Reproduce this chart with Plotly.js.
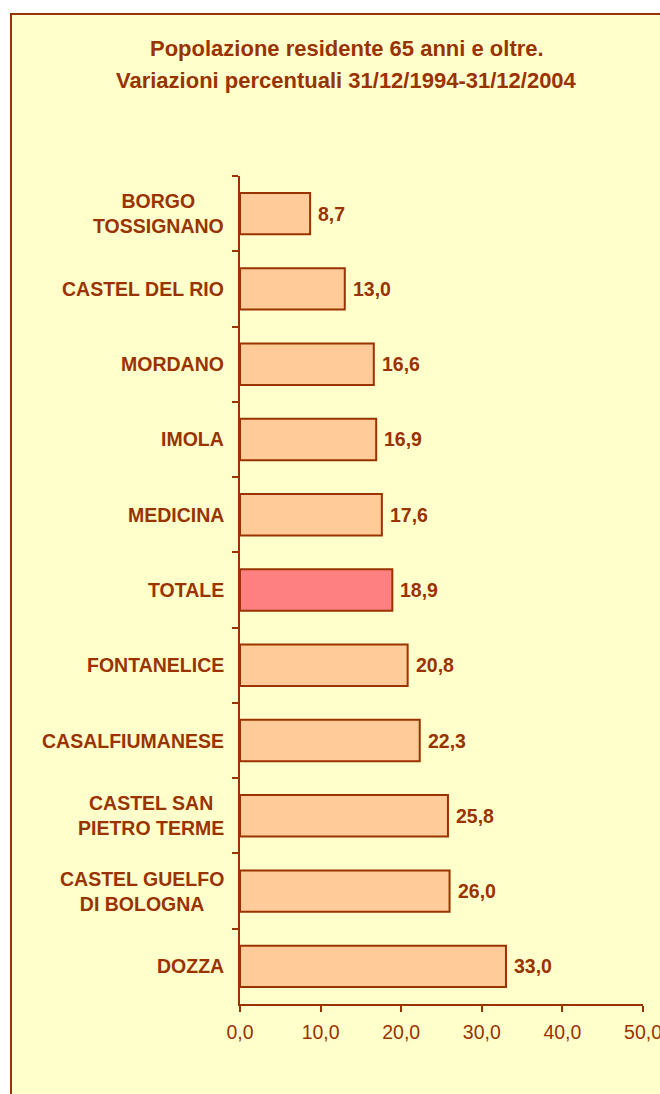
<!DOCTYPE html>
<html>
<head>
<meta charset="utf-8">
<script src="https://cdn.plot.ly/plotly-3.0.1.min.js"></script>
<style>html,body{margin:0;padding:0;background:#fff;}#chart{width:660px;height:1094px;}</style>
</head>
<body>
<div id="chart"></div>
<script>
// Data
var categories = ["BORGO TOSSIGNANO","CASTEL DEL RIO","MORDANO","IMOLA","MEDICINA","TOTALE","FONTANELICE","CASALFIUMANESE","CASTEL SAN PIETRO TERME","CASTEL GUELFO DI BOLOGNA","DOZZA"];
var labelTexts = ["BORGO<br>TOSSIGNANO","CASTEL DEL RIO","MORDANO","IMOLA","MEDICINA","TOTALE","FONTANELICE","CASALFIUMANESE","CASTEL SAN<br>PIETRO TERME","CASTEL GUELFO<br>DI BOLOGNA","DOZZA"];
var values = [8.7, 13.0, 16.6, 16.9, 17.6, 18.9, 20.8, 22.3, 25.8, 26.0, 33.0];
var xTickVals = [0, 10, 20, 30, 40, 50];
var titleLines = ["Popolazione residente 65 anni e oltre.", "Variazioni percentuali 31/12/1994-31/12/2004"];

var brown = "#993300";
var fillColors = categories.map(function(c){ return c === "TOTALE" ? "#FF8080" : "#FFCC99"; });
var fontFam = "'Liberation Sans', Arial, sans-serif";

var trace = {
  type: "bar",
  orientation: "h",
  y: categories,
  x: values,
  width: 0.55,
  marker: { color: fillColors, line: { color: brown, width: 2 } },
  hoverinfo: "none"
};

var annotations = [];
categories.forEach(function(c, i){
  annotations.push({
    xref: "paper", yref: "y", x: 0, y: c, xanchor: "right", yanchor: "middle",
    xshift: -14, text: labelTexts[i], showarrow: false, align: "center",
    font: { family: fontFam, size: 19.5, color: brown, weight: "bold" }
  });
  annotations.push({
    xref: "x", yref: "y", x: values[i], y: c, xanchor: "left", yanchor: "middle",
    xshift: 6, text: values[i].toFixed(1).replace(".", ","), showarrow: false,
    font: { family: fontFam, size: 19.5, color: brown, weight: "bold" }
  });
});
// title lines
var titleY = [49, 81];
titleLines.forEach(function(t, i){
  annotations.push({
    xref: "paper", yref: "paper", x: (346.5 - 240) / 403, y: (1004 - titleY[i]) / 828,
    xanchor: "center", yanchor: "middle", text: t, showarrow: false,
    font: { family: fontFam, size: 22, color: brown, weight: "bold" }
  });
});

var layout = {
  width: 660, height: 1094,
  margin: { l: 240, r: 17, t: 176, b: 90, pad: 0 },
  paper_bgcolor: "#ffffff",
  plot_bgcolor: "rgba(0,0,0,0)",
  separators: ",.",
  showlegend: false,
  xaxis: {
    range: [0, 50], tickvals: xTickVals, tickformat: ".1f",
    showgrid: false, zeroline: false,
    showline: true, linecolor: brown, linewidth: 2,
    ticks: "outside", ticklen: 6, tickwidth: 2, tickcolor: brown,
    ticklabeloverflow: "allow", ticklabelstandoff: 4,
    tickfont: { family: fontFam, size: 19.5, color: brown },
    fixedrange: true
  },
  yaxis: {
    type: "category", categoryorder: "array", categoryarray: categories,
    autorange: "reversed",
    showgrid: false, zeroline: false,
    showline: true, linecolor: brown, linewidth: 2,
    ticks: "outside", ticklen: 6, tickwidth: 2, tickcolor: brown,
    tickson: "boundaries", showticklabels: false,
    fixedrange: true
  },
  shapes: [{
    type: "rect", xref: "paper", yref: "paper", layer: "below",
    x0: (11 - 240) / 403, x1: (700 - 240) / 403,
    y0: (1004 - 1130) / 828, y1: (1004 - 14) / 828,
    line: { color: brown, width: 2 }, fillcolor: "#FFFFCC"
  }],
  annotations: annotations
};

Plotly.newPlot("chart", [trace], layout, { displayModeBar: false, staticPlot: true });
</script>
</body>
</html>
